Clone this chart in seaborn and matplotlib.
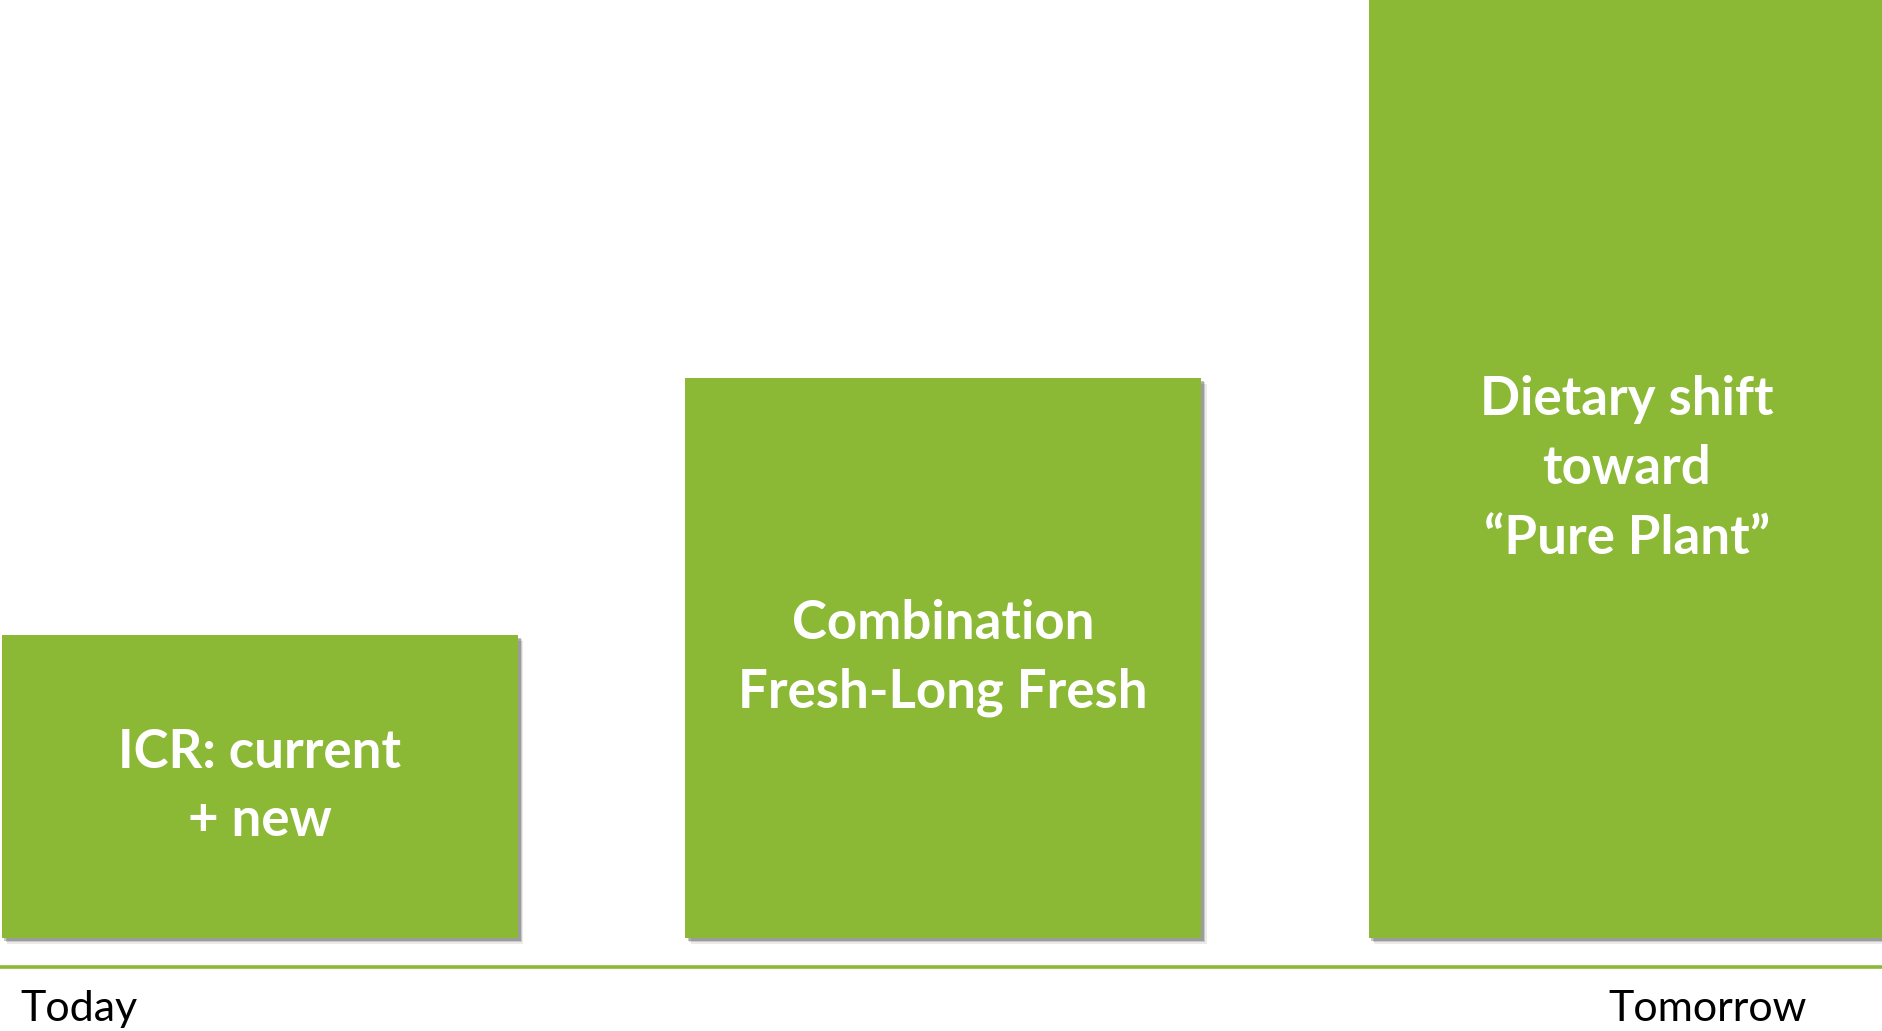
"""
Today -> Tomorrow staircase of green blocks
"""

import matplotlib
matplotlib.use("Agg")
import matplotlib.pyplot as plt
import matplotlib.patheffects as pe
from matplotlib.lines import Line2D
import seaborn as sns

categories = ["ICR", "Combination", "Dietary shift"]
values = [3.03, 5.6, 9.38]
labels = ["ICR: current\n+ new",
          "Combination\nFresh-Long Fresh",
          "Dietary shift\ntoward\n\u201cPure Plant\u201d"]
axis_labels = ["Today", "Tomorrow"]

green = "#8BB936"

sns.set_style("white")
plt.rcParams["font.family"] = ["Lato", "DejaVu Sans"]

fig = plt.figure(figsize=(18.83, 10.31), dpi=100)
ax = fig.add_axes([0, 93 / 1031, 1, 938 / 1031])

sns.barplot(x=categories, y=values, color=green, saturation=1, width=0.755, ax=ax)

# soft drop shadow, right and below the blocks
for bar in ax.patches:
    bar.set_clip_on(False)
    bar.set_linewidth(0)
    bar.set_path_effects([
        pe.SimplePatchShadow(offset=(4, -4), shadow_rgbFace="black", alpha=0.08),
        pe.SimplePatchShadow(offset=(3, -3), shadow_rgbFace="black", alpha=0.14),
        pe.SimplePatchShadow(offset=(2, -2), shadow_rgbFace="black", alpha=0.22),
        pe.Normal(),
    ])

for i, (v, lab) in enumerate(zip(values, labels)):
    ax.text(i, v / 2, lab, ha="center", va="center", color="white",
            fontsize=38, fontweight="bold", linespacing=1.5)

ax.set_xlim(-0.38, 2.375)
ax.set_ylim(0, 9.38)
ax.axis("off")

# timeline
fig.add_artist(Line2D([0, 1], [1 - 967 / 1031] * 2, color=green, lw=2.6,
                      transform=fig.transFigure))
fig.text(20 / 1883, 1 - 1009 / 1031, axis_labels[0], ha="left", va="center",
         fontsize=31, color="black")
fig.text(1807 / 1883, 1 - 1009 / 1031, axis_labels[1], ha="right", va="center",
         fontsize=31, color="black")

fig.savefig("out.png", dpi=100)
